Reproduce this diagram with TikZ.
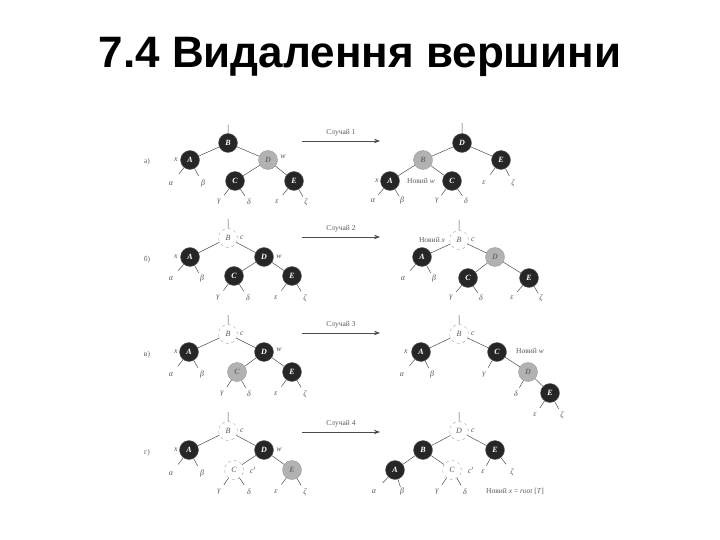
\documentclass[tikz,border=0pt]{standalone}
\usepackage{fontspec}
\setmainfont{Liberation Serif}
\newfontfamily\titlefont{Liberation Sans}
\usetikzlibrary{arrows.meta,calc}
\begin{document}
\begin{tikzpicture}[x=1pt,y=-1pt,
 blk/.style={circle,fill=black!85,draw=black!60,minimum size=19pt,inner sep=0pt,text=white,font=\bfseries\itshape\fontsize{8}{8}\selectfont},
 gry/.style={circle,fill=gray!60,draw=gray!80,minimum size=19pt,inner sep=0pt,text=gray!85!black,font=\bfseries\itshape\fontsize{8}{8}\selectfont},
 wht/.style={circle,fill=white,draw=gray!70,dashed,thin,minimum size=19pt,inner sep=0pt,text=gray!70!black,font=\itshape\fontsize{8}{8}\selectfont},
 lf/.style={inner sep=1pt,text=gray!70!black,font=\itshape\fontsize{8}{8}\selectfont},
 lb/.style={inner sep=1pt,text=gray!70!black,font=\fontsize{7.5}{8}\selectfont},
 ed/.style={draw=gray!60!black,line width=0.5pt},
 ar/.style={draw=gray!60!black,line width=0.8pt,-{Stealth[length=6pt]}}]
\newcommand\stub[2]{\draw[ed] (#1) -- ($(#1)!18pt!(#2)$);}
\useasboundingbox (0,0) rectangle (720,540);
\node[font=\titlefont\bfseries\fontsize{44}{46}\selectfont] (title) at (360,57) {7.4 Видалення вершини};
% ---------- a)
\node[lb] (la) at (147,162) {а)};
\node[blk] (a1B) at (228,143) {B};
\node[blk] (a1A) at (190,160) {A};
\node[gry] (a1D) at (268,160) {D};
\node[blk] (a1C) at (235,181) {C};
\node[blk] (a1E) at (294,181) {E};
\coordinate (a1r) at (228,125);
\node[lf] (a1al) at (171,184) {α};\node[lf] (a1be) at (203,184) {β};
\node[lf] (a1ga) at (219,202) {γ};\node[lf] (a1de) at (249,202) {δ};
\node[lf] (a1ep) at (277,202) {ε};\node[lf] (a1ze) at (306,202) {ζ};
\node[lf] (a1x) at (176,160) {x};\node[lf] (a1w) at (283,157) {w};
\draw[ed] (a1r)--(a1B) (a1B)--(a1A) (a1B)--(a1D) (a1D)--(a1C) (a1D)--(a1E);
\stub{a1A}{a1al}\stub{a1A}{a1be}\stub{a1C}{a1ga}\stub{a1C}{a1de}\stub{a1E}{a1ep}\stub{a1E}{a1ze}
\coordinate (a0s) at (302,141); \coordinate (a0e) at (380,141);
\draw[ar] (a0s)--(a0e);
\node[lb] (a0l) at (341,133) {Случай 1};
\node[blk] (a2D) at (462,143) {D};
\node[gry] (a2B) at (423,160) {B};
\node[blk] (a2E) at (501,160) {E};
\node[blk] (a2A) at (390,181) {A};
\node[blk] (a2C) at (452,181) {C};
\coordinate (a2r) at (462,123);
\node[lf] (a2al) at (373,201) {α};\node[lf] (a2be) at (402,201) {β};
\node[lf] (a2ga) at (437,201) {γ};\node[lf] (a2de) at (466,201) {δ};
\node[lf] (a2ep) at (484,183) {ε};\node[lf] (a2ze) at (513,183) {ζ};
\node[lf] (a2x) at (377,181) {x};\node[lb] (a2w) at (421,181) {Новий \textit{w}};
\draw[ed] (a2r)--(a2D) (a2D)--(a2B) (a2D)--(a2E) (a2B)--(a2A) (a2B)--(a2C);
\stub{a2A}{a2al}\stub{a2A}{a2be}\stub{a2C}{a2ga}\stub{a2C}{a2de}\stub{a2E}{a2ep}\stub{a2E}{a2ze}
% ---------- b)
\node[lb] (lbb) at (147,260) {б)};
\node[wht] (b1B) at (228,238) {B};
\node[blk] (b1A) at (190,257) {A};
\node[blk] (b1D) at (264,257) {D};
\node[blk] (b1C) at (234,276) {C};
\node[blk] (b1E) at (292,276) {E};
\coordinate (b1r) at (228,219);
\node[lf] (b1al) at (171,279) {α};\node[lf] (b1be) at (202,279) {β};
\node[lf] (b1ga) at (218,298) {γ};\node[lf] (b1de) at (248,298) {δ};
\node[lf] (b1ep) at (276,298) {ε};\node[lf] (b1ze) at (305,298) {ζ};
\node[lf] (b1x) at (176,257) {x};\node[lf] (b1c) at (242,238) {c};\node[lf] (b1w) at (279,257) {w};
\draw[ed] (b1r)--(b1B) (b1B)--(b1A) (b1B)--(b1D) (b1D)--(b1C) (b1D)--(b1E);
\stub{b1A}{b1al}\stub{b1A}{b1be}\stub{b1C}{b1ga}\stub{b1C}{b1de}\stub{b1E}{b1ep}\stub{b1E}{b1ze}
\coordinate (b0s) at (302,237); \coordinate (b0e) at (380,237);
\draw[ar] (b0s)--(b0e);
\node[lb] (b0l) at (341,229) {Случай 2};
\node[wht] (b2B) at (459,240) {B};
\node[blk] (b2A) at (422,257) {A};
\node[gry] (b2D) at (495,257) {D};
\node[blk] (b2C) at (468,278) {C};
\node[blk] (b2E) at (529,278) {E};
\coordinate (b2r) at (459,220);
\node[lf] (b2al) at (403,279) {α};\node[lf] (b2be) at (434,279) {β};
\node[lf] (b2ga) at (451,298) {γ};\node[lf] (b2de) at (481,298) {δ};
\node[lf] (b2ep) at (512,298) {ε};\node[lf] (b2ze) at (541,298) {ζ};
\node[lb] (b2x) at (432,240) {Новий \textit{x}};\node[lf] (b2c) at (473,240) {c};
\draw[ed] (b2r)--(b2B) (b2B)--(b2A) (b2B)--(b2D) (b2D)--(b2C) (b2D)--(b2E);
\stub{b2A}{b2al}\stub{b2A}{b2be}\stub{b2C}{b2ga}\stub{b2C}{b2de}\stub{b2E}{b2ep}\stub{b2E}{b2ze}
% ---------- c)
\node[lb] (lc) at (147,355) {в)};
\node[wht] (c1B) at (228,334) {B};
\node[blk] (c1A) at (189,352) {A};
\node[blk] (c1D) at (264,352) {D};
\node[gry] (c1C) at (237,372) {C};
\node[blk] (c1E) at (292,372) {E};
\coordinate (c1r) at (228,315);
\node[lf] (c1al) at (171,375) {α};\node[lf] (c1be) at (202,375) {β};
\node[lf] (c1ga) at (222,394) {γ};\node[lf] (c1de) at (249,394) {δ};
\node[lf] (c1ep) at (276,394) {ε};\node[lf] (c1ze) at (305,394) {ζ};
\node[lf] (c1x) at (176,352) {x};\node[lf] (c1c) at (242,334) {c};\node[lf] (c1w) at (279,350) {w};
\draw[ed] (c1r)--(c1B) (c1B)--(c1A) (c1B)--(c1D) (c1D)--(c1C) (c1D)--(c1E);
\stub{c1A}{c1al}\stub{c1A}{c1be}\stub{c1C}{c1ga}\stub{c1C}{c1de}\stub{c1E}{c1ep}\stub{c1E}{c1ze}
\coordinate (c0s) at (302,333); \coordinate (c0e) at (380,333);
\draw[ar] (c0s)--(c0e);
\node[lb] (c0l) at (341,325) {Случай 3};
\node[wht] (c2B) at (459,334) {B};
\node[blk] (c2A) at (421,352) {A};
\node[blk] (c2C) at (497,352) {C};
\node[gry] (c2D) at (528,372) {D};
\node[blk] (c2E) at (550,393) {E};
\coordinate (c2r) at (459,315);
\node[lf] (c2al) at (402,375) {α};\node[lf] (c2be) at (432,375) {β};
\node[lf] (c2ga) at (484,375) {γ};\node[lf] (c2de) at (516,394) {δ};
\node[lf] (c2ep) at (535,415) {ε};\node[lf] (c2ze) at (562,415) {ζ};
\node[lf] (c2x) at (406,352) {x};\node[lf] (c2c) at (473,334) {c};\node[lb] (c2w) at (530,351) {Новий \textit{w}};
\draw[ed] (c2r)--(c2B) (c2B)--(c2A) (c2B)--(c2C) (c2C)--(c2D) (c2D)--(c2E);
\stub{c2A}{c2al}\stub{c2A}{c2be}\stub{c2C}{c2ga}\stub{c2D}{c2de}\stub{c2E}{c2ep}\stub{c2E}{c2ze}
% ---------- d)
\node[lb] (ld) at (147,453) {г)};
\node[wht] (d1B) at (228,431) {B};
\node[blk] (d1A) at (189,450) {A};
\node[blk] (d1D) at (264,450) {D};
\node[wht] (d1C) at (234,470) {C};
\node[gry] (d1E) at (292,470) {E};
\coordinate (d1r) at (228,412);
\node[lf] (d1al) at (171,474) {α};\node[lf] (d1be) at (202,474) {β};
\node[lf] (d1ga) at (219,492) {γ};\node[lf] (d1de) at (249,492) {δ};
\node[lf] (d1ep) at (276,492) {ε};\node[lf] (d1ze) at (305,492) {ζ};
\node[lf] (d1x) at (176,450) {x};\node[lf] (d1c) at (242,431) {c};\node[lf] (d1w) at (279,450) {w};\node[lf] (d1cc) at (253,470) {c$'$};
\draw[ed] (d1r)--(d1B) (d1B)--(d1A) (d1B)--(d1D) (d1D)--(d1C) (d1D)--(d1E);
\stub{d1A}{d1al}\stub{d1A}{d1be}\stub{d1C}{d1ga}\stub{d1C}{d1de}\stub{d1E}{d1ep}\stub{d1E}{d1ze}
\coordinate (d0s) at (302,432); \coordinate (d0e) at (380,432);
\draw[ar] (d0s)--(d0e);
\node[lb] (d0l) at (341,424) {Случай 4};
\node[wht] (d2D) at (459,431) {D};
\node[blk] (d2B) at (423,450) {B};
\node[blk] (d2E) at (495,450) {E};
\node[blk] (d2A) at (395,470) {A};
\node[wht] (d2C) at (452,470) {C};
\coordinate (d2r) at (459,412);
\node[lf] (d2al) at (374,492) {α};\node[lf] (d2be) at (402,492) {β};
\node[lf] (d2ga) at (437,492) {γ};\node[lf] (d2de) at (465,492) {δ};
\node[lf] (d2ep) at (483,472) {ε};\node[lf] (d2ze) at (512,472) {ζ};
\node[lf] (d2c) at (473,431) {c};\node[lf] (d2cc) at (471,470) {c$'$};
\node[lb,anchor=west] (d2x) at (485,491) {Новий \textit{x} = \textit{root} [\textit{T}]};
\draw[ed] (d2r)--(d2D) (d2D)--(d2B) (d2D)--(d2E) (d2B)--(d2A) (d2B)--(d2C);
\stub{d2A}{d2al}\stub{d2A}{d2be}\stub{d2C}{d2ga}\stub{d2C}{d2de}\stub{d2E}{d2ep}\stub{d2E}{d2ze}
\end{tikzpicture}
\end{document}
